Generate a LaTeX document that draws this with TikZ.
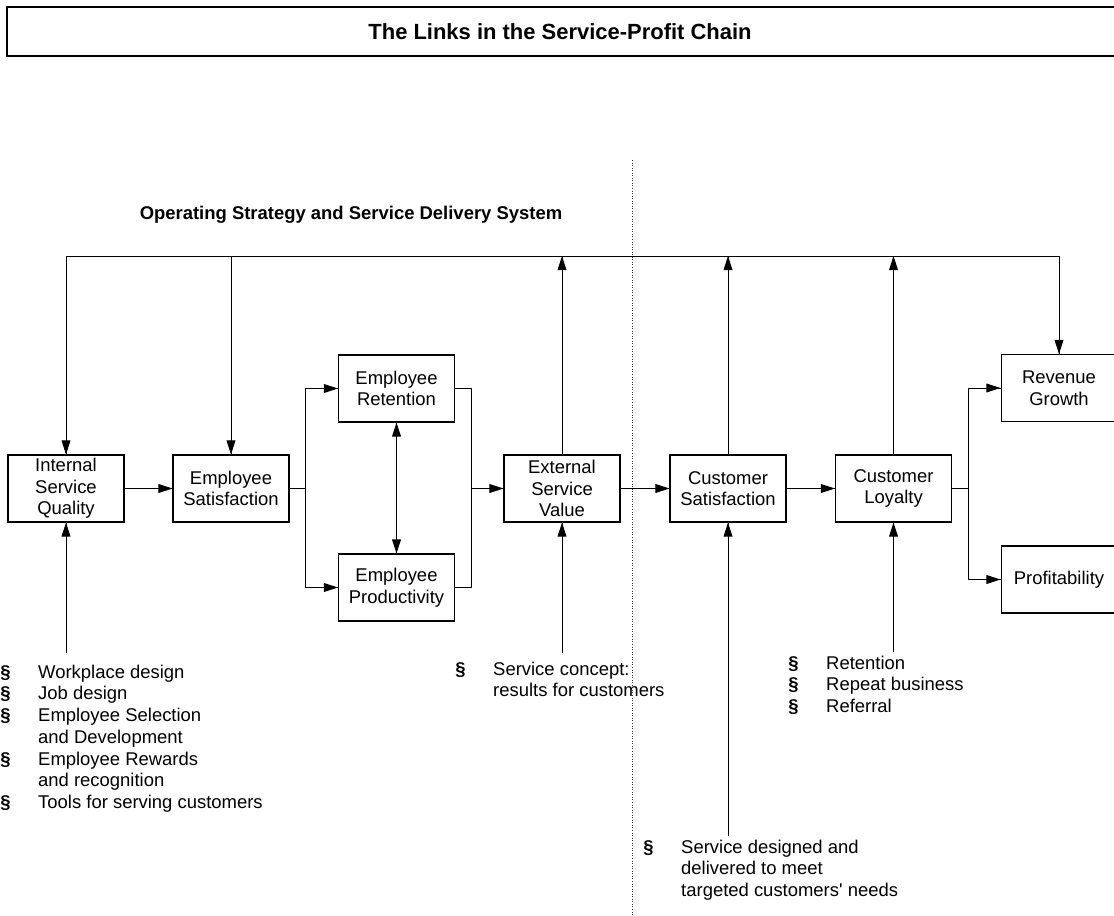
\documentclass[tikz,border=0pt]{standalone}
\usepackage{fontspec}
\setmainfont{Liberation Sans}
\usetikzlibrary{arrows.meta}
\usetikzlibrary{decorations.markings}
\usetikzlibrary{positioning}
\tikzset{arr/.style = {decoration={markings,
                                   mark=at position 1 with {\arrow{Triangle[length=8pt,width=5pt]}}},
                       postaction={decorate}}}
\tikzset{twoway/.style = {decoration={markings,
                                      mark=at position 0 with {\arrowreversed{Triangle[length=8pt,width=5pt]}},
                                      mark=at position 1 with {\arrow{Triangle[length=8pt,width=5pt]}}},
                          postaction={decorate}}}
\tikzset{link/.style = {draw, line width=0.6pt, minimum width=2.32cm, minimum height=1.34cm,
                        inner sep=0pt, align=center, font=\fontsize{10.5}{12.3}\selectfont},
         notes/.style = {anchor=base west, inner sep=0pt, font=\fontsize{10.5}{12.4}\selectfont}}
\newcommand{\itemlist}[1]{\begin{tabular}[t]{@{}p{21.5pt}@{}l@{}}#1\end{tabular}}
\newcommand{\bul}{\textbf{\S}}

\begin{document}
\begin{tikzpicture}[x=0.02cm, y=-0.02cm, line width=0.5pt]
    \useasboundingbox (0, 0) rectangle (1114, 915);

    \draw [line width=0.6pt] (7, 7) rectangle (1121, 56);
    \node [font=\fontsize{12.5}{15}\selectfont\bfseries] (title) at (560, 31.5)
      {The Links in the Service-Profit Chain};
    \node [font=\fontsize{10.5}{12.4}\selectfont\bfseries] (strategy) at (351, 215)
      {Operating Strategy and Service Delivery System};

    \draw [densely dotted, line width=0.45pt, black!80] (632, 160) -- (632, 915);

    % chain of boxes
    \node [link] (isq) at (66, 488.5) {Internal\\Service\\Quality};
    \node [link] (esat) at (231, 488.5) {Employee\\Satisfaction};
    \node [link] (eret) at (396.5, 388.5) {Employee\\Retention};
    \node [link] (eprod) at (396.5, 587.5) {Employee\\Productivity};
    \node [link] (esv) at (562, 488.5) {External\\Service\\Value};
    \node [link] (csat) at (728, 488.5) {Customer\\Satisfaction};
    \node [link] (cloy) at (893.5, 488.5) {Customer\\Loyalty};
    \node [link] (rev) at (1059, 388) {Revenue\\Growth};
    \node [link] (profit) at (1059, 579.5) {Profitability};

    \draw [arr] (isq) -- (esat);
    \coordinate (split) at (305, 488.5);
    \draw (esat.east) -- (split);
    \draw [arr] (split) |- (eret.west);
    \draw [arr] (split) |- (eprod.west);
    \draw [twoway] (eret.south) -- (eprod.north);
    \coordinate (merge) at (471, 488.5);
    \draw (eret.east) -| (merge);
    \draw (eprod.east) -| (merge);
    \draw [arr] (merge) -- (esv.west);
    \draw [arr] (esv) -- (csat);
    \draw [arr] (csat) -- (cloy);
    \coordinate (fork) at (968, 488.5);
    \draw (cloy.east) -- (fork);
    \draw [arr] (fork) |- (rev.west);
    \draw [arr] (fork) |- (profit.west);

    % strategy line along the top
    \coordinate (bus) at (0, 256);
    \draw (isq.north |- bus) -- (rev.north |- bus);
    \draw [arr] (isq.north |- bus) -- (isq.north);
    \draw [arr] (esat.north |- bus) -- (esat.north);
    \draw [arr] (rev.north |- bus) -- (rev.north);
    \draw [arr] (esv.north) -- (esv.north |- bus);
    \draw [arr] (csat.north) -- (csat.north |- bus);
    \draw [arr] (cloy.north) -- (cloy.north |- bus);

    % drivers from below
    \coordinate (isqin) at (66, 653);
    \coordinate (esvin) at (562, 653);
    \coordinate (csatin) at (728, 836);
    \coordinate (cloyin) at (893.5, 652);
    \draw [arr] (isqin) -- (isq.south);
    \draw [arr] (esvin) -- (esv.south);
    \draw [arr] (csatin) -- (csat.south);
    \draw [arr] (cloyin) -- (cloy.south);

    \node [notes] (workplace) at (0, 678) {\itemlist{%
      \bul & Workplace design\\
      \bul & Job design\\
      \bul & Employee Selection\\
           & and Development\\
      \bul & Employee Rewards\\
           & and recognition\\
      \bul & Tools for serving customers}};
    \node [notes] (concept) at (455, 675) {\itemlist{%
      \bul & Service concept:\\
           & results for customers}};
    \node [notes] (loyalty) at (788, 669) {\itemlist{%
      \bul & Retention\\
      \bul & Repeat business\\
      \bul & Referral}};
    \node [notes] (design) at (643, 853) {\itemlist{%
      \bul & Service designed and\\
           & delivered to meet\\
           & targeted customers\textquotesingle{} needs}};
  \end{tikzpicture}
\end{document}
